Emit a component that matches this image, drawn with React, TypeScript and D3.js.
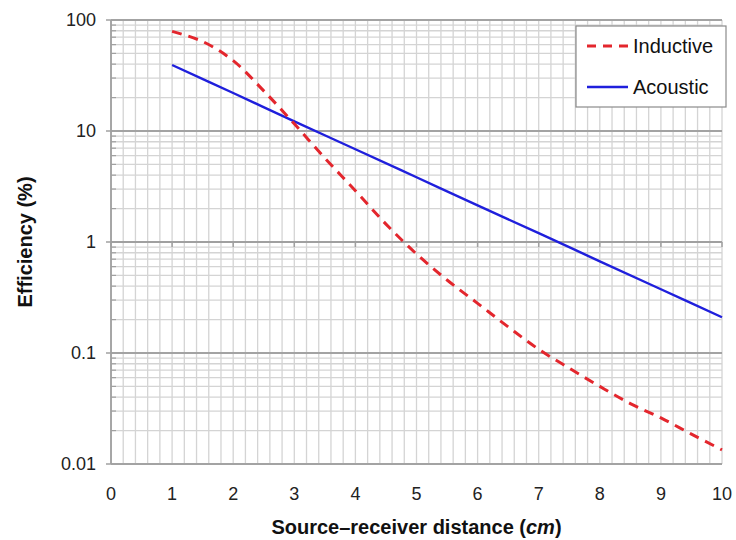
import React from "react";
import * as d3 from "d3";

// Source–receiver distance (cm)
const distances = [1, 1.5, 2, 2.5, 3, 3.5, 4, 4.5, 5, 5.5, 6, 6.5, 7, 7.5, 8, 8.5, 9, 9.5, 10];
// Efficiency (%) of the inductive link
const inductive = [79, 64, 43, 23, 11.6, 5.7, 2.9, 1.45, 0.78, 0.455, 0.28, 0.172, 0.108, 0.073, 0.05, 0.035, 0.026, 0.0186, 0.0134];
// Efficiency (%) of the acoustic link
const acousticDistances = [1, 2, 3, 4, 5, 6, 7, 8, 9, 10];
const acoustic = [39.3, 22, 12.2, 6.85, 3.83, 2.14, 1.2, 0.67, 0.375, 0.21];

const xTicks = [0, 1, 2, 3, 4, 5, 6, 7, 8, 9, 10];
const yTicks = [0.01, 0.1, 1, 10, 100];
const yTickLabels = ["0.01", "0.1", "1", "10", "100"];

const W = 736;
const H = 540;
const M = { left: 111, right: 14, top: 20, bottom: 76 };

export default function App() {
  const x = d3.scaleLinear().domain([0, 10]).range([M.left, W - M.right]);
  const y = d3.scaleLog().domain([0.01, 100]).range([H - M.bottom, M.top]);

  const xMinor = d3.range(0, 10.001, 0.2);
  const yMinor: number[] = [];
  for (let d = 0.01; d < 100; d *= 10) {
    for (let k = 2; k <= 9; k++) yMinor.push(d * k);
  }

  const line = d3
    .line<[number, number]>()
    .x((d) => x(d[0]))
    .y((d) => y(d[1]))
    .curve(d3.curveCatmullRom.alpha(0.5));

  const indPath = line(distances.map((d, i) => [d, inductive[i]] as [number, number])) || "";
  const acoPath = line(acousticDistances.map((d, i) => [d, acoustic[i]] as [number, number])) || "";

  const font = "'Liberation Sans', Arial, sans-serif";
  const x0 = M.left;
  const x1 = W - M.right;
  const yb = H - M.bottom;
  const yCross = y(1);
  const red = "#e3262d";
  const blue = "#1f1fdc";

  return (
    <svg width={W} height={H} style={{ position: "absolute", left: 0, top: 0, background: "#fff" }} fontFamily={font}>
      {/* minor vertical grid */}
      {xMinor.map((v, i) => (
        <line key={"vx" + i} x1={x(v)} x2={x(v)} y1={M.top} y2={yb} stroke="#d4d4d4" strokeWidth={1.3} />
      ))}
      {/* minor horizontal grid */}
      {yMinor.map((v, i) => (
        <line key={"hy" + i} x1={x0} x2={x1} y1={y(v)} y2={y(v)} stroke="#d4d4d4" strokeWidth={1.3} />
      ))}
      {/* decade grid */}
      {yTicks.map((v, i) => (
        <line key={"dy" + i} x1={x0} x2={x1} y1={y(v)} y2={y(v)} stroke="#a3a3a3" strokeWidth={1.8} />
      ))}
      {/* y axis */}
      <line x1={x0} x2={x0} y1={M.top} y2={yb} stroke="#a0a0a0" strokeWidth={1.8} />
      {yTicks.map((v, i) => (
        <line key={"yt" + i} x1={x0 - 5} x2={x0} y1={y(v)} y2={y(v)} stroke="#a0a0a0" strokeWidth={1.5} />
      ))}
      {yMinor.map((v, i) => (
        <line key={"ym" + i} x1={x0} x2={x0 + 5} y1={y(v)} y2={y(v)} stroke="#a0a0a0" strokeWidth={1.2} />
      ))}
      {/* x axis crossing the log axis at 1 */}
      <line x1={x0} x2={x1} y1={yCross} y2={yCross} stroke="#a0a0a0" strokeWidth={1.8} />
      {xTicks.map((v, i) => (
        <line key={"xt" + i} x1={x(v)} x2={x(v)} y1={yCross} y2={yCross + 5} stroke="#a0a0a0" strokeWidth={1.5} />
      ))}
      {yTicks.map((v, i) => (
        <text key={"yl" + i} x={x0 - 15} y={y(v)} dy="0.36em" textAnchor="end" fontSize={18} fill="#222">
          {yTickLabels[i]}
        </text>
      ))}
      {xTicks.map((v, i) => (
        <text key={"xl" + i} x={x(v)} y={yb + 36} textAnchor="middle" fontSize={18} fill="#222">
          {v}
        </text>
      ))}
      {/* series */}
      <path d={acoPath} fill="none" stroke={blue} strokeWidth={2.4} />
      <path d={indPath} fill="none" stroke={red} strokeWidth={3} strokeDasharray="10,7" />
      {/* legend */}
      <rect x={576} y={26} width={150} height={81} fill="#fff" stroke="#8a8a8a" strokeWidth={1.2} />
      <line x1={587} x2={628} y1={46} y2={46} stroke={red} strokeWidth={3} strokeDasharray="9,7" />
      <text x={633} y={46} dy="0.36em" fontSize={20} fill="#111">Inductive</text>
      <line x1={587} x2={628} y1={87} y2={87} stroke={blue} strokeWidth={2.4} />
      <text x={633} y={87} dy="0.36em" fontSize={20} fill="#111">Acoustic</text>
      {/* axis titles */}
      <text x={(x0 + x1) / 2} y={534} textAnchor="middle" fontSize={20} fontWeight="bold" fill="#111">
        Source–receiver distance (<tspan fontStyle="italic">cm</tspan>)
      </text>
      <text transform={`translate(32,${(M.top + yb) / 2}) rotate(-90)`} textAnchor="middle" fontSize={20} fontWeight="bold" fill="#111">
        Efficiency (%)
      </text>
    </svg>
  );
}
